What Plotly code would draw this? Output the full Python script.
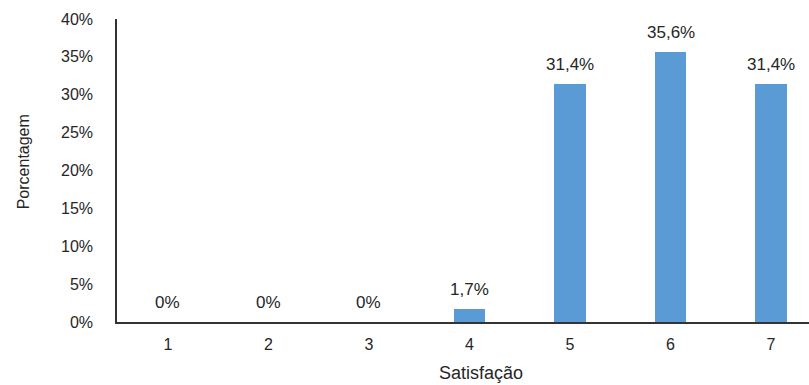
import plotly.graph_objects as go

categories = [1, 2, 3, 4, 5, 6, 7]
values = [0, 0, 0, 1.7, 31.4, 35.6, 31.4]
labels = ["0%", "0%", "0%", "1,7%", "31,4%", "35,6%", "31,4%"]
ytick_vals = [0, 5, 10, 15, 20, 25, 30, 35, 40]
ytick_text = ["0%", "5%", "10%", "15%", "20%", "25%", "30%", "35%", "40%"]

FONT = "Liberation Sans, Arial, sans-serif"
TXT = "#262626"

fig = go.Figure(go.Bar(
    x=categories, y=values, width=0.31,
    marker=dict(color="#5B9BD5", line=dict(width=0)),
    hoverinfo="x+y",
))

label_annotations = [
    dict(text=t, x=c, y=v, xref="x", yref="y", yshift=8, showarrow=False,
         xanchor="center", yanchor="bottom",
         font=dict(family=FONT, size=17, color=TXT))
    for c, v, t in zip(categories, values, labels)
]

fig.update_layout(
    width=809, height=385,
    margin=dict(l=117, r=0, t=19, b=63),
    plot_bgcolor="white", paper_bgcolor="white",
    showlegend=False,
    bargap=0,
    font=dict(family=FONT, color=TXT),
    xaxis=dict(
        range=[0.493, 7.378], tickmode="array", tickvals=categories,
        ticktext=[str(c) for c in categories],
        showgrid=False, zeroline=False, showline=True,
        linecolor="#333333", linewidth=1.5, ticks="",
        tickfont=dict(family=FONT, size=16, color=TXT),
        ticklabelstandoff=7,
    ),
    yaxis=dict(
        range=[0, 40], tickmode="array", tickvals=ytick_vals, ticktext=ytick_text,
        showgrid=False, zeroline=False, showline=True,
        linecolor="#333333", linewidth=1.5, ticks="",
        tickfont=dict(family=FONT, size=16, color=TXT),
        ticklabelstandoff=19,
    ),
    annotations=label_annotations + [
        dict(text="Satisfação", xref="paper", yref="paper", x=0.526, y=0,
             yshift=-51, showarrow=False, xanchor="center", yanchor="middle",
             font=dict(family=FONT, size=18, color=TXT)),
        dict(text="Porcentagem", xref="paper", yref="paper", x=0, xshift=-94,
             y=0.527, showarrow=False, textangle=-90, xanchor="center", yanchor="middle",
             font=dict(family=FONT, size=16, color=TXT)),
    ],
)

fig.write_html("out.html")
